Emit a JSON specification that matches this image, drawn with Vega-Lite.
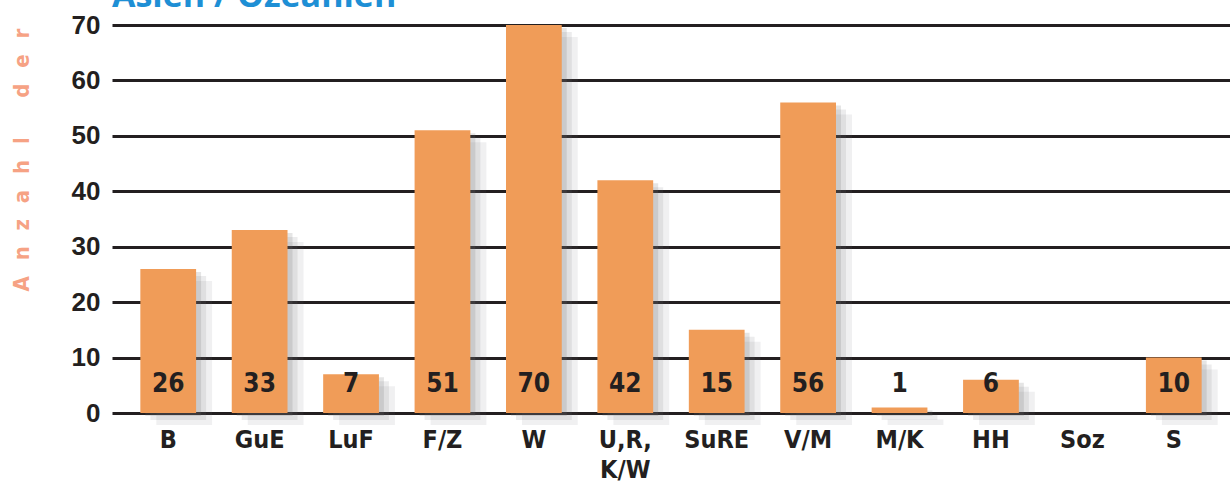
{
  "$schema": "https://vega.github.io/schema/vega-lite/v6.json",
  "autosize": {"type": "none"},
  "width": 1118,
  "height": 388,
  "padding": {"left": 112, "top": 25, "right": 0, "bottom": 78},
  "background": "white",
  "title": {
    "text": "Asien / Ozeanien",
    "anchor": "start",
    "frame": "group",
    "offset": 0,
    "dy": 2,
    "fontSize": 34,
    "font": "Open Sans",
    "fontWeight": "bold",
    "color": "#1e8fd5"
  },
  "data": {
    "values": [
      {"cat": "B", "n": 26},
      {"cat": "GuE", "n": 33},
      {"cat": "LuF", "n": 7},
      {"cat": "F/Z", "n": 51},
      {"cat": "W", "n": 70},
      {"cat": "U,R,K/W", "n": 42},
      {"cat": "SuRE", "n": 15},
      {"cat": "V/M", "n": 56},
      {"cat": "M/K", "n": 1},
      {"cat": "HH", "n": 6},
      {"cat": "Soz", "n": 0},
      {"cat": "S", "n": 10}
    ]
  },
  "encoding": {
    "x": {
      "field": "cat",
      "type": "nominal",
      "sort": null,
      "scale": {"paddingInner": 0.39, "paddingOuter": 0.31},
      "axis": {
        "title": null,
        "labelAngle": 0,
        "ticks": false,
        "domain": false,
        "labelPadding": 14,
        "labelFont": "DejaVu Sans Condensed",
        "labelFontWeight": "bold",
        "labelFontSize": 25,
        "labelColor": "#231f20",
        "labelLineHeight": 30,
        "labelBaseline": "top",
        "labelExpr": "datum.value == 'U,R,K/W' ? ['U,R,', 'K/W'] : datum.value"
      }
    }
  },
  "layer": [
    {
      "mark": {"type": "bar", "color": "#6d6e71", "opacity": 0.1, "xOffset": 16, "yOffset": 12},
      "encoding": {"y": {"field": "n", "type": "quantitative"}}
    },
    {
      "mark": {"type": "bar", "color": "#6d6e71", "opacity": 0.13, "xOffset": 10, "yOffset": 7},
      "encoding": {"y": {"field": "n", "type": "quantitative"}}
    },
    {
      "mark": {"type": "bar", "color": "#6d6e71", "opacity": 0.18, "xOffset": 5, "yOffset": 3},
      "encoding": {"y": {"field": "n", "type": "quantitative"}}
    },
    {
      "mark": {"type": "bar", "color": "#f09c58"},
      "encoding": {
        "y": {
          "field": "n",
          "type": "quantitative",
          "scale": {"domain": [0, 70], "nice": false},
          "axis": {
            "values": [0, 10, 20, 30, 40, 50, 60, 70],
            "grid": true,
            "gridColor": "#231f20",
            "gridWidth": 3,
            "gridOpacity": 1,
            "domain": false,
            "ticks": false,
            "labelPadding": 12,
            "labelFont": "Liberation Sans",
            "labelFontWeight": "bold",
            "labelFontSize": 26,
            "labelColor": "#231f20",
            "title": "A\u2002\u2009\u200an\u2002\u2009\u200az\u2002\u2009\u200aa\u2002\u2009\u200ah\u2002\u2009\u200al\u2002\u2002\u2002\u2009\u2009\u200ad\u2002\u2009\u200ae\u2002\u2009\u200ar",
            "titleColor": "#f6a284",
            "titleFont": "DejaVu Sans Condensed",
            "titleFontWeight": "bold",
            "titleFontSize": 22,
            "titleAngle": -90,
            "titleAlign": "left",
            "titleBaseline": "middle",
            "titleX": -91,
            "titleY": 266
          }
        }
      }
    },
    {
      "transform": [{"filter": "datum.n > 0"}],
      "mark": {
        "type": "text",
        "font": "DejaVu Sans Condensed",
        "fontWeight": "bold",
        "fontSize": 26,
        "color": "#231f20",
        "baseline": "bottom",
        "dy": -16
      },
      "encoding": {
        "y": {"datum": 0, "type": "quantitative"},
        "text": {"field": "n", "type": "quantitative"}
      }
    }
  ],
  "config": {"view": {"stroke": null}}
}
